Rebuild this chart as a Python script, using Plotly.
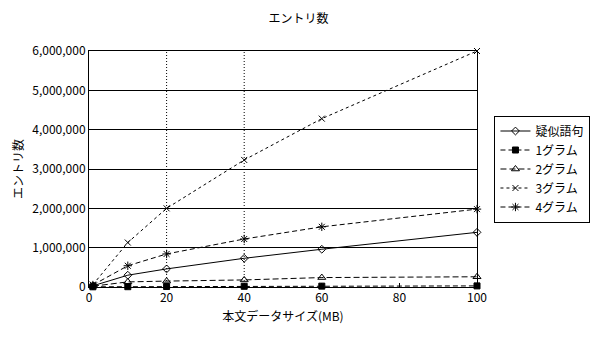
import plotly.graph_objects as go

x_mb = [1, 10, 20, 40, 60, 100]
series_names = ["疑似語句", "1グラム", "2グラム", "3グラム", "4グラム"]
pseudo_phrase = [30000, 300000, 460000, 730000, 960000, 1390000]
gram1 = [5000, 8000, 12000, 18000, 22000, 28000]
gram2 = [20000, 130000, 150000, 180000, 240000, 260000]
gram3 = [60000, 1130000, 2000000, 3230000, 4280000, 6000000]
gram4 = [50000, 540000, 840000, 1220000, 1530000, 1980000]
y_ticks = [0, 1000000, 2000000, 3000000, 4000000, 5000000, 6000000]
x_ticks = [0, 20, 40, 60, 80, 100]
vgrid_x = [20, 40]

FONT = "MS UI Gothic, Noto Sans CJK JP, sans-serif"

styles = [
    dict(dash="solid", symbol="diamond-open", size=6),
    dict(dash="5px,3px", symbol="square", size=6),
    dict(dash="6px,3px", symbol="triangle-up-open", size=7),
    dict(dash="3px,3px", symbol="x-thin-open", size=6),
    dict(dash="5px,3px", symbol="asterisk-open", size=7),
]
values = [pseudo_phrase, gram1, gram2, gram3, gram4]

fig = go.Figure()
for name, vals, st in zip(series_names, values, styles):
    fig.add_trace(go.Scatter(
        x=x_mb, y=vals, name=name, mode="lines+markers",
        line=dict(color="black", width=1, dash=st["dash"]),
        marker=dict(symbol=st["symbol"], size=st["size"], color="black",
                    line=dict(color="black", width=1)),
        cliponaxis=False,
    ))

for gx in vgrid_x:
    fig.add_shape(type="line", xref="x", yref="paper", x0=gx, x1=gx, y0=0, y1=1,
                  line=dict(color="black", width=1, dash="1px,2px"), layer="below")

fig.update_layout(
    width=597, height=338,
    margin=dict(l=89, r=120, t=51, b=51, autoexpand=False),
    paper_bgcolor="white", plot_bgcolor="white",
    font=dict(family=FONT, size=12, color="black"),
    title=dict(text="エントリ数", x=0.5, xanchor="center", y=0.945, yanchor="middle",
               font=dict(size=12)),
    xaxis=dict(range=[0, 100], tickvals=x_ticks, showgrid=False, zeroline=False,
               showline=True, linecolor="black", linewidth=1, mirror=True,
               ticks="inside", ticklen=4, tickcolor="black",
               title=dict(text="本文データサイズ(MB)", standoff=8, font=dict(size=12)),
               tickfont=dict(size=12)),
    yaxis=dict(range=[0, 6000000], tickvals=y_ticks, tickformat=",d",
               showgrid=True, gridcolor="black", gridwidth=1, zeroline=False,
               showline=True, linecolor="black", linewidth=1, mirror=True,
               ticks="", title=dict(text="エントリ数", standoff=6, font=dict(size=12)),
               tickfont=dict(size=12)),
    legend=dict(x=1.045, xanchor="left", y=0.5, yanchor="middle",
                bordercolor="black", borderwidth=1, bgcolor="white",
                font=dict(size=12), tracegroupgap=0, itemwidth=30),
    showlegend=True,
)

fig.write_html("out.html")
